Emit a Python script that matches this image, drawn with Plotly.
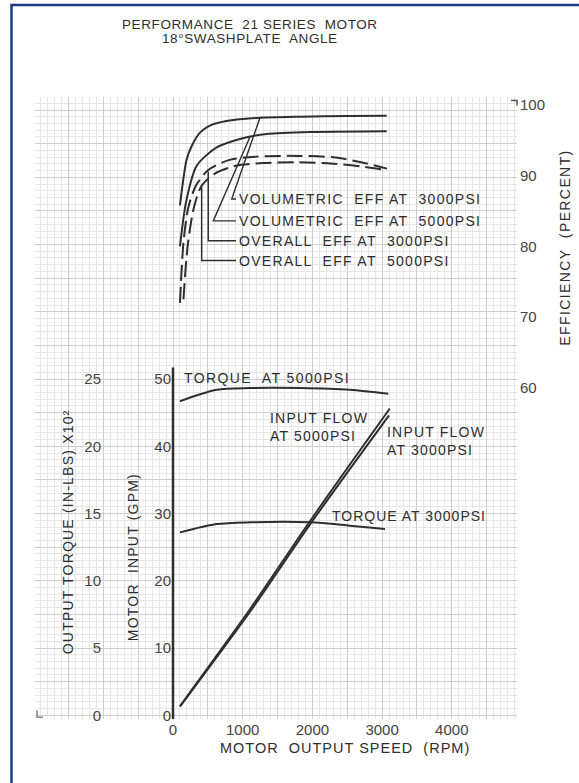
import plotly.graph_objects as go

W, H = 579, 783

# ---------------------------------------------------------------- data
speed_ticks = [0, 1000, 2000, 3000, 4000]
gpm_ticks = [0, 10, 20, 30, 40, 50]
torque_ticks = [0, 5, 10, 15, 20, 25]
eff_ticks = [60, 70, 80, 90, 100]

# efficiency (percent) against motor speed (RPM)
vol_eff_3000_rpm = [100, 148, 196, 268, 387, 578, 865, 1248, 1822, 2540, 3066]
vol_eff_3000 = [85.8, 89.5, 92.3, 94.2, 96.1, 97.3, 97.9, 98.2, 98.35, 98.45, 98.5]
vol_eff_5000_rpm = [100, 150, 196, 340, 627, 961, 1344, 2062, 3066]
vol_eff_5000 = [80.0, 84.0, 86.7, 91.4, 94.0, 95.2, 95.9, 96.2, 96.3]
overall_eff_3000_rpm = [100, 150, 220, 330, 506, 800, 1200, 1800, 2300, 2700, 3070]
overall_eff_3000 = [72.0, 80.5, 85.5, 88.6, 90.8, 92.2, 92.7, 92.8, 92.6, 91.9, 91.0]
overall_eff_5000_rpm = [150, 210, 300, 412, 600, 900, 1300, 1800, 2300, 2700, 3070]
overall_eff_5000 = [72.5, 80.0, 85.5, 88.6, 90.3, 91.4, 91.8, 91.9, 91.7, 91.3, 90.8]

# output torque (in-lbs x 100)
torque_5000_rpm = [100, 627, 1105, 1822, 2539, 3089]
torque_5000 = [23.35, 24.2, 24.33, 24.33, 24.2, 23.9]
torque_3000_rpm = [100, 627, 1105, 1966, 2539, 3042]
torque_3000 = [13.6, 14.22, 14.35, 14.35, 14.1, 13.85]

# motor input flow (GPM)
flow_3000_rpm = [100, 1105, 1966, 3100]
flow_3000 = [1.3, 15.4, 28.4, 44.6]
flow_5000_rpm = [100, 1105, 1966, 3110]
flow_5000 = [1.4, 15.8, 28.9, 45.6]

# leader lines from the efficiency labels to their curves (RPM, percent)
leader_vol_3000 = ([904, 842, 1248], [86.7, 86.7, 98.2])
leader_vol_5000 = ([904, 578, 1105], [83.6, 83.6, 95.5])
leader_ovr_3000 = ([904, 506, 506], [80.8, 80.8, 90.6])
leader_ovr_5000 = ([904, 412, 412], [78.0, 78.0, 88.4])

# ---------------------------------------------------------------- geometry
GRID_L, GRID_R, GRID_T, GRID_B = 35, 517, 97, 723   # graph-paper box, px
X0_PX, PX_PER_RPM = 173, 69.7 / 1000                # speed scale
G0_PX, PX_PER_GPM = 719, 6.76                        # flow scale
E100_PX, PX_PER_PCT = 105.6, 7.1                     # efficiency scale


def fx(px):
    return px / W


def fy(py):
    return 1 - py / H


x_range = [(GRID_L - X0_PX) / PX_PER_RPM, (GRID_R - X0_PX) / PX_PER_RPM]
gpm_range = [(G0_PX - GRID_B) / PX_PER_GPM, (G0_PX - GRID_T) / PX_PER_GPM]
torque_range = [v / 2 for v in gpm_range]
eff_range = [100 - (GRID_B - E100_PX) / PX_PER_PCT, 100 - (GRID_T - E100_PX) / PX_PER_PCT]

INK = "#2e2e2e"
FONT = "Liberation Sans"


def spaced(s, sp=1.6):
    return f'<span style="letter-spacing:{sp}px">{s}</span>'


fig = go.Figure()


def curve(xs, ys, axis, dash="solid", width=2.0):
    fig.add_trace(go.Scatter(
        x=xs, y=ys, yaxis=axis, mode="lines",
        line=dict(color=INK, width=width, dash=dash, shape="spline", smoothing=0.8),
        hoverinfo="skip", showlegend=False))


curve(vol_eff_3000_rpm, vol_eff_3000, "y2")
curve(vol_eff_5000_rpm, vol_eff_5000, "y2")
curve(overall_eff_3000_rpm, overall_eff_3000, "y2", dash="16px,6px")
curve(overall_eff_5000_rpm, overall_eff_5000, "y2", dash="16px,6px")
curve(torque_5000_rpm, torque_5000, "y3")
curve(torque_3000_rpm, torque_3000, "y3")
curve(flow_3000_rpm, flow_3000, "y", width=2.0)
curve(flow_5000_rpm, flow_5000, "y", width=1.8)

for lx, ly in (leader_vol_3000, leader_vol_5000, leader_ovr_3000, leader_ovr_5000):
    fig.add_trace(go.Scatter(x=lx, y=ly, yaxis="y2", mode="lines",
                             line=dict(color=INK, width=1.4),
                             hoverinfo="skip", showlegend=False))

tick_font = dict(family=FONT, size=15, color="#444")
grid_major = "#cdcdcd"
grid_minor = "#e6e6e6"

x_vals = list(range(-1500, 5000, 500))
y_vals = list(range(0, 95, 5))

fig.update_layout(
    width=W, height=H,
    margin=dict(l=0, r=0, t=0, b=0),
    paper_bgcolor="white", plot_bgcolor="white",
    showlegend=False,
    xaxis=dict(
        domain=[fx(GRID_L), fx(GRID_R)], range=x_range,
        tickmode="array", tickvals=x_vals,
        ticktext=[str(v) if v in speed_ticks else "" for v in x_vals],
        ticks="", tickfont=tick_font, zeroline=False, showline=False,
        showgrid=True, gridcolor=grid_major, gridwidth=1,
        minor=dict(dtick=100, tick0=0, showgrid=True, gridcolor=grid_minor, gridwidth=1),
    ),
    yaxis=dict(
        domain=[fy(GRID_B), fy(GRID_T)], range=gpm_range,
        anchor="free", position=fx(171), side="left",
        tickmode="array", tickvals=y_vals,
        ticktext=[str(v) if v in gpm_ticks else "" for v in y_vals],
        ticks="", tickfont=tick_font, zeroline=False, showline=False,
        showgrid=True, gridcolor=grid_major, gridwidth=1,
        minor=dict(dtick=1, tick0=0, showgrid=True, gridcolor=grid_minor, gridwidth=1),
    ),
    yaxis2=dict(
        domain=[fy(GRID_B), fy(GRID_T)], range=eff_range, overlaying="y",
        anchor="free", position=fx(GRID_R + 2), side="right",
        tickmode="array", tickvals=eff_ticks,
        ticks="", tickfont=tick_font, zeroline=False, showline=False, showgrid=False,
    ),
    yaxis3=dict(
        domain=[fy(GRID_B), fy(GRID_T)], range=torque_range, overlaying="y",
        anchor="free", position=fx(101), side="left",
        tickmode="array", tickvals=torque_ticks,
        ticks="", tickfont=tick_font, zeroline=False, showline=False, showgrid=False,
    ),
)

# motor input axis line
fig.add_shape(type="line", xref="x", yref="y", x0=0, x1=0,
              y0=gpm_range[0], y1=51.7, line=dict(color=INK, width=2.5))
# top of efficiency scale
fig.add_shape(type="path", xref="paper", yref="paper",
              path=f"M {fx(GRID_R - 6)},{fy(101)} L {fx(GRID_R)},{fy(101)} L {fx(GRID_R)},{fy(106)}",
              line=dict(color="#555", width=1.5))
# corner mark of the graph paper
fig.add_shape(type="path", xref="paper", yref="paper",
              path=f"M {fx(37)},{fy(714)} L {fx(37)},{fy(721)} L {fx(43)},{fy(721)}",
              line=dict(color="#888", width=1.6))
# page frame
fig.add_shape(type="rect", xref="paper", yref="paper",
              x0=fx(11.5), x1=1.05, y0=-0.05, y1=fy(5),
              line=dict(color="#1c3a86", width=2.5))


def label(text, px, py, size=14, xanchor="left", angle=0, sp=1.6, color=INK):
    fig.add_annotation(
        text=spaced(text, sp), x=fx(px), y=fy(py), xref="paper", yref="paper",
        xanchor=xanchor, yanchor="middle", showarrow=False, textangle=angle,
        font=dict(family=FONT, size=size, color=color), align="left")


label("PERFORMANCE  21 SERIES  MOTOR", 250, 25, size=13.5, xanchor="center", sp=0.6)
label("18°SWASHPLATE  ANGLE", 250, 39, size=13.5, xanchor="center", sp=0.6)

label("VOLUMETRIC  EFF AT  3000PSI", 237, 200, sp=1.3)
label("VOLUMETRIC  EFF AT  5000PSI", 237, 222, sp=1.3)
label("OVERALL  EFF AT  3000PSI", 237, 242, sp=1.3)
label("OVERALL  EFF AT  5000PSI", 237, 262, sp=1.3)

label("TORQUE  AT 5000PSI", 182, 380, sp=1.4)
label("INPUT FLOW<br>AT 5000PSI", 268, 429, sp=1.2)
label("INPUT FLOW<br>AT 3000PSI", 385, 443, sp=1.2)
label("TORQUE AT 3000PSI", 330, 519, sp=1.0)

label("MOTOR  OUTPUT SPEED  (RPM)", 345, 752, size=14.5, xanchor="center", sp=1.0)
label("OUTPUT TORQUE (IN-LBS) X10²", 68, 535, size=14, xanchor="center", angle=-90, sp=1.2)
label("MOTOR  INPUT (GPM)", 133, 560, size=14, xanchor="center", angle=-90, sp=1.2)
label("EFFICIENCY  (PERCENT)", 565, 249, size=14, xanchor="center", angle=-90, sp=1.4)

fig.write_html("out.html")
